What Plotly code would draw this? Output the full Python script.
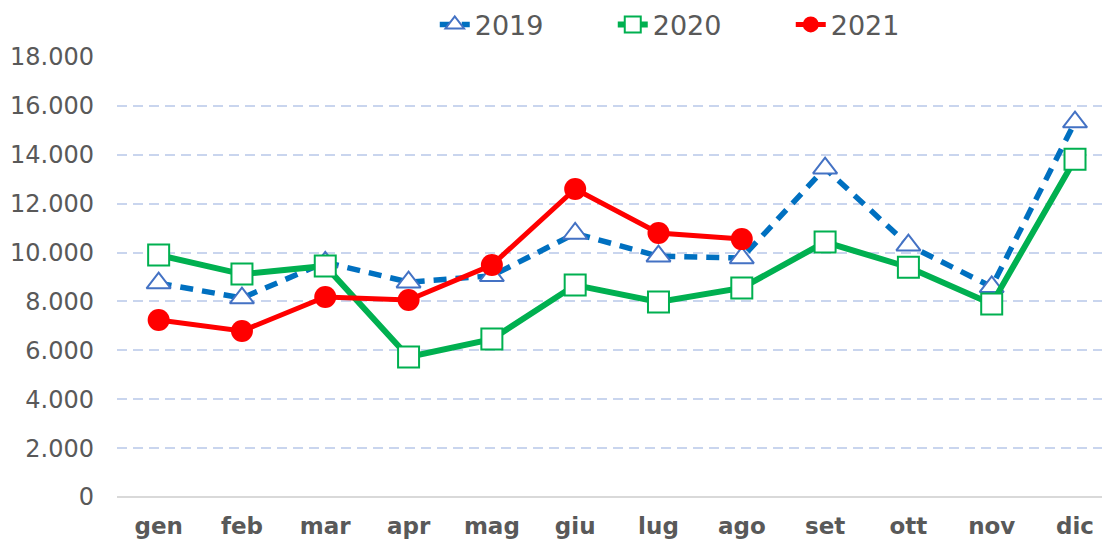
import plotly.graph_objects as go

months = ["gen", "feb", "mar", "apr", "mag", "giu", "lug", "ago", "set", "ott", "nov", "dic"]
v2019 = [8750, 8140, 9600, 8790, 9050, 10780, 9850, 9780, 13450, 10300, 8600, 15340]
v2020 = [9900, 9120, 9450, 5730, 6460, 8670, 7980, 8550, 10430, 9400, 7900, 13820]
v2021 = [7240, 6790, 8180, 8060, 9490, 12600, 10800, 10550]
months2021 = months[:len(v2021)]
y_ticks = [0, 2000, 4000, 6000, 8000, 10000, 12000, 14000, 16000, 18000]

FONT = "DejaVu Sans"
GREY = "#595959"

fig = go.Figure()
fig.add_trace(go.Scatter(
    x=months, y=v2019, name="2019", mode="lines+markers",
    line=dict(color="#0070C0", width=5.5, dash="13px,9px"),
    marker=dict(symbol="triangle-up", size=21, color="white",
                line=dict(color="#4472C4", width=2)),
))
fig.add_trace(go.Scatter(
    x=months, y=v2020, name="2020", mode="lines+markers",
    line=dict(color="#00B050", width=6),
    marker=dict(symbol="square", size=21, color="white",
                line=dict(color="#00B050", width=2)),
))
fig.add_trace(go.Scatter(
    x=months2021, y=v2021, name="2021", mode="lines+markers",
    line=dict(color="#FF0000", width=5),
    marker=dict(symbol="circle", size=22, color="#FF0000",
                line=dict(color="#FF0000", width=0)),
))

fig.update_layout(
    width=1102, height=533,
    margin=dict(l=109, r=0, t=49, b=44, autoexpand=False),
    paper_bgcolor="white", plot_bgcolor="white",
    separators=",.",
    font=dict(family=FONT, color=GREY),
    showlegend=True,
    legend=dict(
        orientation="h", x=0.320, xanchor="left", y=1.073, yanchor="middle",
        font=dict(family=FONT, size=27, color=GREY),
        itemwidth=30, entrywidth=133, entrywidthmode="pixels",
        bgcolor="rgba(0,0,0,0)",
    ),
    xaxis=dict(
        type="category", range=[-0.5, 11.42],
        showgrid=False, showline=False, zeroline=False,
        ticks="", tickfont=dict(family=FONT, size=23, color=GREY, weight="bold"),
        ticklabelstandoff=13,
    ),
    yaxis=dict(
        range=[0, 18000], tickvals=y_ticks, tickformat=",",
        showgrid=True, gridcolor="#C9D5EE", griddash="10px,6px", gridwidth=1.5,
        zeroline=True, zerolinecolor="#D9D9D9", zerolinewidth=2,
        showline=False, ticks="",
        tickfont=dict(family=FONT, size=24, color=GREY),
        ticklabelstandoff=22,
    ),
)

fig.write_html("out.html")
